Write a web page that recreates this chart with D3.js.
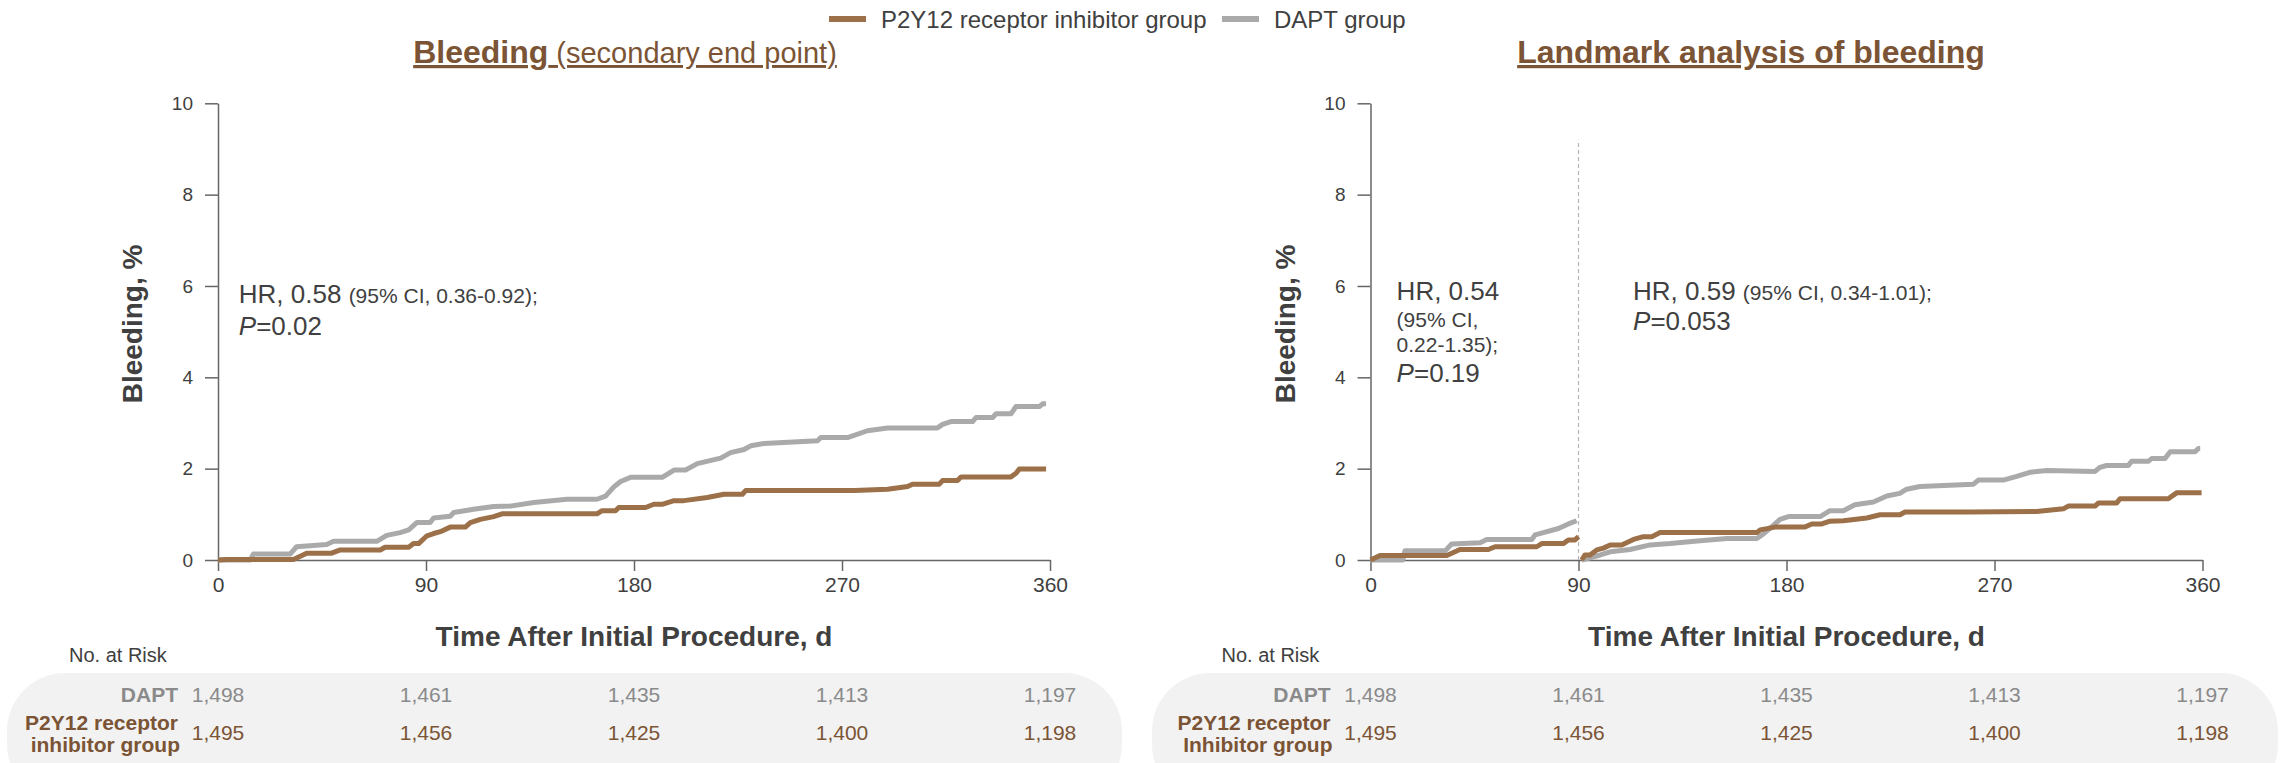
<!DOCTYPE html>
<html lang="en">
<head>
<meta charset="UTF-8">
<title>Bleeding - Kaplan-Meier curves</title>
<script src="https://d3js.org/d3.v7.min.js"></script>
<style>
    body {
        margin: 0;
        background: #fff;
        font-family: 'Liberation Sans', Arial, sans-serif;
    }
    svg text { font-family: 'Liberation Sans', Arial, sans-serif; }
</style>
</head>
<body>
<script>
// colours
const brown = "#9c7049";
const titleBrown = "#7b5435";
const grey = "#aaaaaa";
const textDark = "#404040";

// axis ticks
const xTicks = [0, 90, 180, 270, 360];
const yTicks = [0, 2, 4, 6, 8, 10];

// left panel: cumulative bleeding, % (day, value)
const leftDapt = [[0,0],[14,0],[15.3,0.13],[31.2,0.13],[34,0.29],[47,0.34],[50,0.41],[68.7,0.41],[73,0.54],[78.8,0.6],[82.5,0.66],[86,0.82],[91.8,0.82],[93.3,0.92],[100.5,0.96],[102,1.04],[110.6,1.11],[119.3,1.17],[126.5,1.18],[136.6,1.26],[151,1.33],[164,1.33],[167.7,1.4],[171.3,1.6],[174.2,1.72],[178.5,1.81],[192.2,1.81],[197.3,1.97],[202.3,1.97],[207.4,2.11],[217.5,2.23],[221.8,2.35],[227.6,2.42],[230.5,2.5],[236.3,2.55],[259.4,2.61],[260.8,2.68],[272.4,2.68],[281,2.83],[289.7,2.89],[311.3,2.89],[313.5,2.97],[317.1,3.03],[326.5,3.03],[328,3.12],[335.2,3.12],[336.6,3.2],[343.1,3.2],[345.3,3.36],[355.4,3.36],[356.8,3.42],[358.3,3.42]];
const leftP2y12 = [[0,0],[3.8,0.01],[32.6,0.01],[38.4,0.15],[49.2,0.15],[52.9,0.22],[70.2,0.22],[72.3,0.28],[82.5,0.28],[84.6,0.36],[86.8,0.36],[90.4,0.53],[93.3,0.58],[96.2,0.62],[100.5,0.72],[107,0.72],[109.2,0.82],[113.5,0.89],[119.3,0.95],[122.9,1.01],[164,1.01],[166.2,1.08],[172,1.08],[173.4,1.15],[185,1.15],[188.6,1.22],[192.2,1.22],[197.3,1.3],[201.6,1.3],[211.7,1.37],[218.9,1.44],[226.9,1.44],[228.3,1.52],[275.3,1.52],[289.7,1.55],[298.4,1.61],[300.5,1.66],[312.1,1.66],[313.5,1.74],[320,1.74],[321.5,1.82],[343.1,1.82],[345.3,1.9],[346.7,1.99],[358.3,1.99]];

// right panel: landmark analysis, 0-90 d and 90-360 d
const rightDaptEarly = [[0,0],[14,0],[14.9,0.2],[32.3,0.2],[35.1,0.35],[47.4,0.38],[50.3,0.45],[69.8,0.45],[71.2,0.55],[74.8,0.6],[81.3,0.69],[85.6,0.79],[89.2,0.86]];
const rightP2y12Early = [[0,0],[4.1,0.1],[33,0.1],[38.7,0.23],[51,0.23],[53.9,0.29],[71.9,0.29],[74.1,0.36],[83.5,0.36],[85.6,0.44],[88.5,0.44],[90,0.51]];
const rightDaptLate = [[91.4,0],[99.4,0.11],[103.7,0.18],[112.3,0.23],[121,0.33],[129.6,0.36],[142.6,0.42],[154.2,0.47],[167.2,0.47],[170,0.57],[173.7,0.73],[177.2,0.89],[180.8,0.95],[194.6,0.95],[198.8,1.08],[204.6,1.08],[209.6,1.21],[217.6,1.27],[223.4,1.4],[229,1.46],[232,1.55],[237.8,1.61],[260.9,1.66],[263,1.75],[273.8,1.75],[279.6,1.83],[285.3,1.92],[292.6,1.96],[313.5,1.94],[315.6,2.03],[318.5,2.07],[327.9,2.07],[329.3,2.16],[336.5,2.16],[338,2.22],[343.8,2.22],[346,2.37],[356.8,2.37],[358.2,2.44],[359,2.44]];
const rightP2y12Late = [[91.4,0],[92.8,0.11],[95,0.11],[97.9,0.22],[100.8,0.26],[103.7,0.33],[108.7,0.33],[113.8,0.45],[118.1,0.51],[121.7,0.51],[125.3,0.6],[167.2,0.6],[168.6,0.66],[175,0.72],[188,0.72],[190.9,0.79],[195.3,0.79],[198.8,0.85],[204.6,0.86],[214.7,0.92],[220.5,0.99],[229.1,0.99],[231.3,1.05],[259.4,1.05],[288.2,1.06],[299.8,1.12],[301.9,1.18],[313.5,1.18],[315,1.25],[322.9,1.25],[324.3,1.34],[345.2,1.34],[347.4,1.42],[348.8,1.47],[359.6,1.47]];

// numbers at risk
const daptRisk = ["1,498", "1,461", "1,435", "1,413", "1,197"];
const p2y12Risk = ["1,495", "1,456", "1,425", "1,400", "1,198"];

const W = 2285, H = 763;
const svg = d3.select("body").append("svg")
    .attr("width", W)
    .attr("height", H);

// legend
const legend = svg.append("g");
legend.append("line").attr("x1", 829).attr("x2", 866).attr("y1", 19).attr("y2", 19)
    .attr("stroke", brown).attr("stroke-width", 6);
legend.append("text").attr("x", 881).attr("y", 28).attr("font-size", 24).attr("fill", textDark)
    .text("P2Y12 receptor inhibitor group");
legend.append("line").attr("x1", 1222).attr("x2", 1259).attr("y1", 19).attr("y2", 19)
    .attr("stroke", grey).attr("stroke-width", 6);
legend.append("text").attr("x", 1274).attr("y", 28).attr("font-size", 24).attr("fill", textDark)
    .text("DAPT group");

function drawPanel(p) {
    const g = svg.append("g");
    const x = d3.scaleLinear().domain([0, 360]).range([p.left, p.left + 832]);
    const y = d3.scaleLinear().domain([0, 10]).range([560, 103.3]);

    // title
    const title = g.append("text")
        .attr("x", p.titleX).attr("y", 63)
        .attr("text-anchor", "middle")
        .attr("fill", titleBrown)
        .attr("text-decoration", "underline");
    title.append("tspan").attr("font-weight", "bold").attr("font-size", 32).text(p.title);
    if (p.subtitle) {
        title.append("tspan").attr("font-size", 29).text(" " + p.subtitle);
    }

    // axes
    const yAxis = g.append("g")
        .attr("transform", `translate(${p.left},0)`)
        .call(d3.axisLeft(y).tickValues(yTicks).tickSize(13).tickSizeOuter(0).tickPadding(12));
    const xAxis = g.append("g")
        .attr("transform", `translate(0,560)`)
        .call(d3.axisBottom(x).tickValues(xTicks).tickSize(11).tickSizeOuter(0).tickPadding(6));
    [yAxis, xAxis].forEach(a => {
        a.selectAll("path, line").attr("stroke", "#666").attr("stroke-width", 1.5);
        a.selectAll("text").attr("fill", textDark)
            .style("font-family", "'Liberation Sans', Arial, sans-serif");
    });
    yAxis.selectAll("text").attr("font-size", 19);
    xAxis.selectAll("text").attr("font-size", 21);

    // axis titles
    g.append("text")
        .attr("transform", `translate(${p.left - 76},324) rotate(-90)`)
        .attr("text-anchor", "middle")
        .attr("font-size", 28).attr("font-weight", "bold").attr("fill", textDark)
        .text("Bleeding, %");
    g.append("text")
        .attr("x", p.left + 416).attr("y", 646)
        .attr("text-anchor", "middle")
        .attr("font-size", 28).attr("font-weight", "bold").attr("fill", textDark)
        .text("Time After Initial Procedure, d");

    // landmark divider
    if (p.landmark) {
        g.append("line")
            .attr("x1", x(90)).attr("x2", x(90))
            .attr("y1", y(0)).attr("y2", y(9.2))
            .attr("stroke", "#b5b5b5").attr("stroke-width", 1.2)
            .attr("stroke-dasharray", "4,3");
    }

    // curves
    const line = d3.line().x(d => x(d[0])).y(d => y(d[1]));
    p.series.forEach(s => {
        g.append("path")
            .datum(s.data)
            .attr("d", line)
            .attr("fill", "none")
            .attr("stroke", s.color)
            .attr("stroke-width", 5)
            .attr("stroke-linejoin", "round");
    });

    // HR annotations
    p.notes.forEach(n => {
        const t = g.append("text").attr("x", x(n.t)).attr("fill", textDark);
        n.lines.forEach(l => {
            const row = t.append("tspan").attr("x", x(n.t)).attr("y", l.y);
            l.parts.forEach(part => {
                const ts = row.append("tspan").attr("font-size", part.size).text(part.text);
                if (part.italic) ts.attr("font-style", "italic");
            });
        });
    });

    // number at risk table
    g.append("rect")
        .attr("x", p.tableX).attr("y", 673)
        .attr("width", p.tableW).attr("height", 130)
        .attr("rx", 58).attr("ry", 58)
        .attr("fill", "#f2f2f2");
    g.append("text")
        .attr("x", p.left - 149).attr("y", 662)
        .attr("font-size", 20).attr("fill", textDark)
        .text("No. at Risk");
    g.append("text")
        .attr("x", p.left - 40).attr("y", 702)
        .attr("text-anchor", "end")
        .attr("font-size", 21).attr("font-weight", "bold").attr("fill", "#8a8a8a")
        .text("DAPT");
    const lab = g.append("text")
        .attr("text-anchor", "end")
        .attr("font-size", 21).attr("font-weight", "bold").attr("fill", titleBrown);
    lab.append("tspan").attr("x", p.left - 40).attr("y", 730).text("P2Y12 receptor");
    lab.append("tspan").attr("x", p.left - 38).attr("y", 752).text(p.groupLine2);

    g.selectAll(".risk-dapt")
        .data(daptRisk)
        .enter().append("text")
        .attr("class", "risk-dapt")
        .attr("x", (d, i) => x(xTicks[i]))
        .attr("y", 702)
        .attr("text-anchor", "middle")
        .attr("font-size", 21).attr("fill", "#8a8a8a")
        .text(d => d);
    g.selectAll(".risk-p2y12")
        .data(p2y12Risk)
        .enter().append("text")
        .attr("class", "risk-p2y12")
        .attr("x", (d, i) => x(xTicks[i]))
        .attr("y", 740)
        .attr("text-anchor", "middle")
        .attr("font-size", 21).attr("fill", titleBrown)
        .text(d => d);
}

drawPanel({
    left: 218,
    titleX: 625,
    title: "Bleeding",
    subtitle: "(secondary end point)",
    landmark: false,
    tableX: 7, tableW: 1115,
    groupLine2: "inhibitor group",
    series: [
        { data: leftDapt, color: grey },
        { data: leftP2y12, color: brown }
    ],
    notes: [
        { t: 9, lines: [
            { y: 303, parts: [{ text: "HR, 0.58 ", size: 26 }, { text: "(95% CI, 0.36-0.92);", size: 21 }] },
            { y: 335, parts: [{ text: "P", size: 26, italic: true }, { text: "=0.02", size: 26 }] }
        ] }
    ]
});

drawPanel({
    left: 1370.5,
    titleX: 1751,
    title: "Landmark analysis of bleeding",
    subtitle: null,
    landmark: true,
    tableX: 1152, tableW: 1126,
    groupLine2: "Inhibitor group",
    series: [
        { data: rightDaptEarly, color: grey },
        { data: rightDaptLate, color: grey },
        { data: rightP2y12Early, color: brown },
        { data: rightP2y12Late, color: brown }
    ],
    notes: [
        { t: 11.3, lines: [
            { y: 300, parts: [{ text: "HR, 0.54", size: 26 }] },
            { y: 327, parts: [{ text: "(95% CI,", size: 21 }] },
            { y: 352, parts: [{ text: "0.22-1.35);", size: 21 }] },
            { y: 382, parts: [{ text: "P", size: 26, italic: true }, { text: "=0.19", size: 26 }] }
        ] },
        { t: 113.6, lines: [
            { y: 300, parts: [{ text: "HR, 0.59 ", size: 26 }, { text: "(95% CI, 0.34-1.01);", size: 21 }] },
            { y: 330, parts: [{ text: "P", size: 26, italic: true }, { text: "=0.053", size: 26 }] }
        ] }
    ]
});
</script>
</body>
</html>
